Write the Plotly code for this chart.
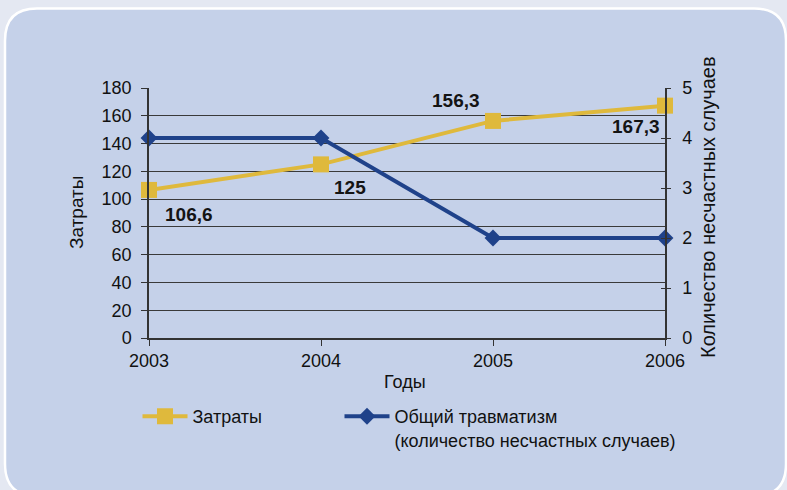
import plotly.graph_objects as go

years = [2003, 2004, 2005, 2006]
costs = [106.6, 125, 156.3, 167.3]
injuries = [4, 4, 2, 2]
cost_labels = ["106,6", "125", "156,3", "167,3"]
y_ticks = [0, 20, 40, 60, 80, 100, 120, 140, 160, 180]
y2_ticks = [0, 1, 2, 3, 4, 5]

# label pixel offsets (style)
label_dx = [40, 29, -37, -29]
label_dy = [-25, -23, 20, -21]

W, H = 787, 490
ML, MR, MT, MB = 149, 122, 88, 152
PW, PH = W - ML - MR, H - MT - MB


def X(px):
    return (px - ML) / PW


def Y(py):
    return (H - MB - py) / PH


YELLOW = "#dfb93c"
BLUE = "#1f428a"
FONT = "Liberation Sans, Arial, sans-serif"

fig = go.Figure()
fig.add_trace(go.Scatter(
    x=years, y=costs, name="Затраты", mode="lines+markers",
    line=dict(color=YELLOW, width=4),
    marker=dict(symbol="square", size=16, color=YELLOW),
    cliponaxis=False, yaxis="y", legend="legend",
))
fig.add_trace(go.Scatter(
    x=years, y=injuries, name="Общий травматизм<br>(количество несчастных случаев)",
    mode="lines+markers",
    line=dict(color=BLUE, width=4),
    marker=dict(symbol="diamond", size=13, color=BLUE),
    cliponaxis=False, yaxis="y2", legend="legend2",
))

annotations = []
for xv, yv, t, dx, dy in zip(years, costs, cost_labels, label_dx, label_dy):
    annotations.append(dict(x=xv, y=yv, xref="x", yref="y", text=t, showarrow=False,
                            xshift=dx, yshift=dy,
                            font=dict(family=FONT, size=19, color="#141414", weight="bold")))

annotations += [
    dict(x=X(76), y=Y(213), xref="paper", yref="paper", text="Затраты", textangle=-90,
         xanchor="center", yanchor="middle",
         showarrow=False, font=dict(family=FONT, size=19, color="#111")),
    dict(x=X(708), y=Y(207), xref="paper", yref="paper", text="Количество несчастных случаев",
         xanchor="center", yanchor="middle",
         textangle=-90, showarrow=False, font=dict(family=FONT, size=20, color="#111")),
    dict(x=X(405), y=Y(382), xref="paper", yref="paper", text="Годы",
         xanchor="center", yanchor="middle",
         showarrow=False, font=dict(family=FONT, size=18, color="#111")),
]

L, T, R, B, r = 5, 8.5, 786, 496, 32
rx, ry = r / PW, r / PH
path = (f"M {X(L)},{Y(T)-ry} Q {X(L)},{Y(T)} {X(L)+rx},{Y(T)} "
        f"L {X(R)-rx},{Y(T)} Q {X(R)},{Y(T)} {X(R)},{Y(T)-ry} "
        f"L {X(R)},{Y(B)+ry} Q {X(R)},{Y(B)} {X(R)-rx},{Y(B)} "
        f"L {X(L)+rx},{Y(B)} Q {X(L)},{Y(B)} {X(L)},{Y(B)+ry} Z")

legend_common = dict(orientation="h", xanchor="left", yanchor="top",
                     bgcolor="rgba(0,0,0,0)", font=dict(family=FONT, size=18, color="#111"),
                     valign="top", itemclick=False, itemdoubleclick=False, itemwidth=45)

fig.update_layout(
    width=W, height=H,
    margin=dict(l=ML, r=MR, t=MT, b=MB),
    paper_bgcolor="#e4e8f2",
    plot_bgcolor="rgba(0,0,0,0)",
    font=dict(family=FONT, size=18, color="#111"),
    shapes=[dict(type="path", path=path, xref="paper", yref="paper", layer="below",
                 fillcolor="#c5d1e9", line=dict(color="white", width=2.5))],
    annotations=annotations,
    xaxis=dict(range=[2003, 2006], tickvals=years, ticktext=[str(y) for y in years],
               showgrid=False, zeroline=False, showline=True, linecolor="#333", linewidth=1.5,
               ticks="outside", ticklen=6, tickcolor="#333", tickfont=dict(size=18)),
    yaxis=dict(range=[0, 180], tickvals=y_ticks, showgrid=True, gridcolor="#3a3a3a", gridwidth=1,
               zeroline=False, showline=True, linecolor="#333", linewidth=1.5,
               ticks="outside", ticklen=6, tickcolor="#333", tickfont=dict(size=18),
               ticklabelstandoff=6),
    yaxis2=dict(range=[0, 5], tickvals=y2_ticks, overlaying="y", side="right", showgrid=False,
                zeroline=False, showline=True, linecolor="#333", linewidth=1.5,
                ticks="outside", ticklen=4, tickcolor="#333", tickfont=dict(size=18),
                ticklabelstandoff=8),
    yaxis3=dict(range=[0, 5], tickvals=y2_ticks, overlaying="y", side="right", showgrid=False,
                zeroline=False, showline=False, ticks="inside", ticklen=4, tickcolor="#333",
                showticklabels=False),
    showlegend=True,
    legend=dict(x=X(137.5), y=Y(398), **legend_common),
    legend2=dict(x=X(339.5), y=Y(398), **legend_common),
)
fig.add_trace(go.Scatter(x=[None], y=[None], yaxis="y3", showlegend=False, hoverinfo="skip"))

fig.write_html("out.html", config={"displayModeBar": False},
               post_script="document.body.style.margin='0';document.body.style.overflow='hidden';")
